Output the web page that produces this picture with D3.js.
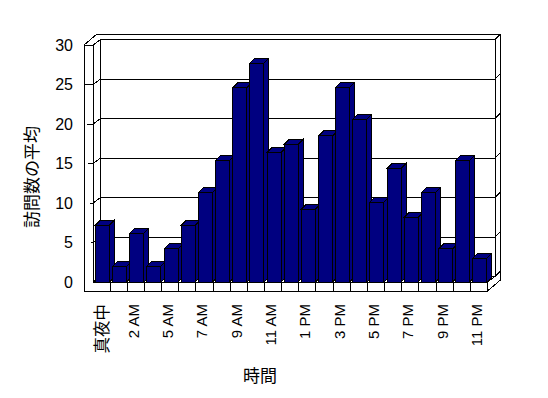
<!DOCTYPE html>
<html><head><meta charset="utf-8">
<script src="https://cdn.jsdelivr.net/npm/d3@7"></script>
<style>
html,body{margin:0;padding:0;background:#fff;}
svg{display:block;}
text{font-family:"Liberation Sans",Arial,"Noto Sans CJK JP",sans-serif;fill:#000;}
path,rect{shape-rendering:crispEdges;}
</style></head>
<body>
<svg id="chart" width="548" height="398"></svg>
<script>
// ---- data ----
const categories = ["真夜中","1 AM","2 AM","3 AM","5 AM","6 AM","7 AM","8 AM","9 AM","10 AM","11 AM","12 PM",
  "1 PM","2 PM","3 PM","4 PM","5 PM","6 PM","7 PM","8 PM","9 PM","10 PM","11 PM"];
const values = [7.2,2.0,6.2,2.0,4.2,7.2,11.3,15.4,24.6,27.7,16.4,17.4,
  9.2,18.5,24.6,20.6,10.1,14.4,8.2,11.3,4.2,15.4,3.0];
const yTicks = [0,5,10,15,20,25,30];
const shownLabels = ["真夜中","2 AM","5 AM","7 AM","9 AM","11 AM","1 PM","3 PM","5 PM","7 PM","9 PM","11 PM"];
const yTitle = "訪問数の平均";
const xTitle = "時間";

// ---- layout ----
const wallOuterX = 84, floorLeft = 93, floorRight = 487.5;
const baseY = 282, floorBottom = 291, topY = 45;
const d1 = [7.5, -5.5];   // floor depth (to back wall front face)
const d2 = [13, -11];     // to back wall back face
const bd = [5, -5];       // bar depth
const barPad = 2.5, barW = 14;
const navy = "#000080";

const svg = d3.select("#chart");
const x = d3.scaleBand().domain(categories).range([floorLeft, floorRight]).padding(0);
const y = d3.scaleLinear().domain([0, 30]).range([baseY, topY]);

const g = svg.append("g").attr("fill", "none").attr("stroke", "#000").attr("stroke-width", 1);
const line = (pts) => "M" + pts.map(p => p.join(",")).join("L");

// outer silhouette
g.append("path").attr("fill", "#fff").attr("d", line([
  [wallOuterX, floorBottom], [wallOuterX, topY], [wallOuterX + d2[0], topY + d2[1]],
  [floorRight + d2[0], topY + d2[1]], [floorRight + d2[0], floorBottom + d2[1]],
  [floorRight, floorBottom]]) + "Z");

const bwL = floorLeft + d1[0], bwR = floorRight + d1[0];
const bwT = topY + d1[1], bwB = baseY + d1[1];
// back wall front face
g.append("path").attr("d", line([[bwL, bwT], [bwR, bwT], [bwR, bwB], [bwL, bwB]]) + "Z");
// left wall lines
g.append("path").attr("d", line([[floorLeft, baseY], [floorLeft, topY], [wallOuterX, topY]]));
g.append("path").attr("d", line([[floorLeft, topY], [bwL, bwT]]));
// back wall right top / floor right
g.append("path").attr("d", line([[bwR, bwT], [floorRight + d2[0], topY + d2[1]]]));
g.append("path").attr("d", line([[floorRight, floorBottom], [floorRight, baseY], [bwR, bwB]]));
g.append("path").attr("d", line([[bwR, bwB], [floorRight + d2[0], baseY + d2[1]]]));

// gridlines
yTicks.forEach(v => {
  const yf = y(v), yb = y(v) + d1[1];
  g.append("path").attr("d", line([[wallOuterX, yf], [floorLeft, yf], [bwL, yb], [bwR, yb], [floorRight + d2[0], yf + d2[1]]]));
});

// bars
const bars = svg.append("g").attr("stroke", "#000").attr("stroke-width", 1).attr("fill", navy)
  .attr("stroke-linejoin", "miter");
categories.forEach((c, i) => {
  const bx = x(c) + barPad, t = y(values[i]);
  const b = bars.append("g");
  b.append("path").attr("d", line([[bx + barW, t], [bx + barW + bd[0], t + bd[1]], [bx + barW + bd[0], baseY + bd[1]], [bx + barW, baseY]]) + "Z");
  b.append("path").attr("d", line([[bx, t], [bx + bd[0], t + bd[1]], [bx + barW + bd[0], t + bd[1]], [bx + barW, t]]) + "Z");
  b.append("rect").attr("x", bx).attr("y", t).attr("width", barW).attr("height", baseY - t);
});

// floor front face
const floor = svg.append("g").attr("stroke", "#000").attr("fill", "none");
floor.append("path").attr("fill", "#fff").attr("d", line([[floorLeft, baseY], [floorRight, baseY], [floorRight, floorBottom], [wallOuterX, floorBottom], [wallOuterX, topY]]));
categories.forEach((c, i) => {
  if (i === 0) return;
  floor.append("path").attr("d", line([[x(c), baseY], [x(c), floorBottom]]));
});

// y axis labels
const yAxis = svg.append("g").attr("transform", "translate(73,0)")
  .call(d3.axisLeft(y).tickValues(yTicks).tickSize(0).tickPadding(0).tickFormat(d3.format("d")));
yAxis.select(".domain").remove();
yAxis.selectAll("text").attr("font-size", 16).attr("font-family", null).attr("x", 0);

// x axis labels
const xAxis = svg.append("g").attr("transform", "translate(0," + floorBottom + ")")
  .call(d3.axisBottom(x).tickSize(0).tickPadding(0).tickFormat(d => shownLabels.includes(d) ? d : ""));
xAxis.select(".domain").remove();
xAxis.selectAll("text")
  .attr("font-family", null)
  .attr("font-size", d => /[^\x00-\x7F]/.test(d) ? 16.5 : 15)
  .attr("text-anchor", "end")
  .attr("transform", "rotate(-90)")
  .attr("dy", null)
  .attr("x", -13)
  .attr("y", d => /[^\x00-\x7F]/.test(d) ? 6 : 3);

// titles
svg.append("text").attr("transform", "translate(38,177) rotate(-90)")
  .attr("text-anchor", "middle").attr("font-size", 17).text(yTitle);
svg.append("text").attr("x", 260).attr("y", 382)
  .attr("text-anchor", "middle").attr("font-size", 17).text(xTitle);
</script>
</body></html>
